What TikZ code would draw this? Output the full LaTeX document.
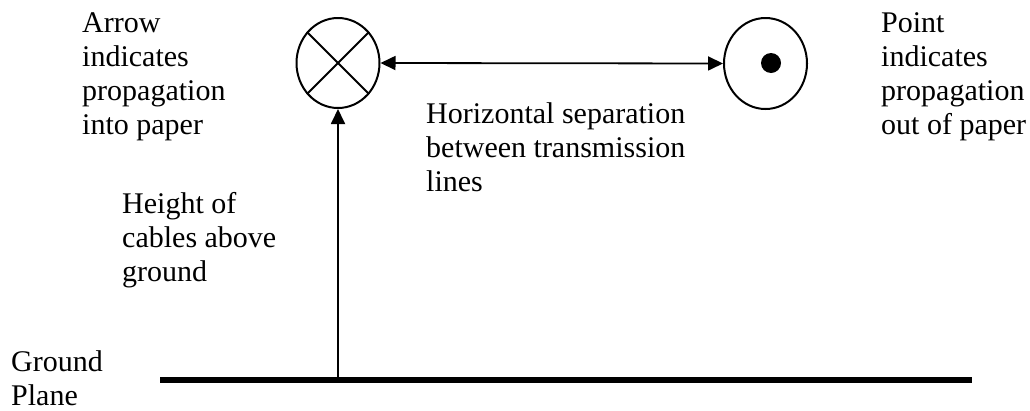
\documentclass[tikz,border=0pt]{standalone}
\usepackage{fontspec}
\setmainfont{Liberation Serif}
\usetikzlibrary{shapes.geometric,arrows.meta}
\tikzset{
  lbl/.style={font=\fontsize{30}{34}\selectfont, align=left, anchor=base west, inner sep=0pt},
  wire/.style={draw, ellipse, line width=2pt, minimum width=83pt, minimum height=90pt, inner sep=0pt},
  conn/.style={line width=1.8pt, {Triangle[length=15pt,width=14pt]}-{Triangle[length=15pt,width=14pt]}},
  upconn/.style={line width=1.8pt, -{Triangle[length=15pt,width=14pt]}},
  ground/.style={line width=6pt}
}
\begin{document}
\begin{tikzpicture}[x=1pt,y=-1pt]
\useasboundingbox (0,0) rectangle (1030,410);
% conductors
\node[wire] (into) at (338,63) {};
\node[wire, minimum height=91pt] (out) at (765.5,63.5) {};
\draw[line width=2pt] (into.45) -- (into.225);
\draw[line width=2pt] (into.135) -- (into.315);
\fill (771,63) circle (10pt);
% ground plane
\coordinate (gl) at (160,380);
\coordinate (gr) at (972,380);
\coordinate (gfoot) at (338,380);
\draw[ground] (gl) -- (gr);
% connectors
\draw[conn] (into.east) -- (out.west);
\draw[upconn] (gfoot) -- (into.south);
% labels (anchored at the baseline of the last line)
\node[lbl] (tin) at (82,134) {Arrow\\indicates\\propagation\\into paper};
\node[lbl] (tout) at (881,134) {Point\\indicates\\propagation\\out of paper};
\node[lbl] (tsep) at (426,191) {Horizontal separation\\between transmission\\lines};
\node[lbl] (thgt) at (122,281) {Height of\\cables above\\ground};
\node[lbl] (tgnd) at (11,405) {Ground\\Plane};
\end{tikzpicture}
\end{document}
